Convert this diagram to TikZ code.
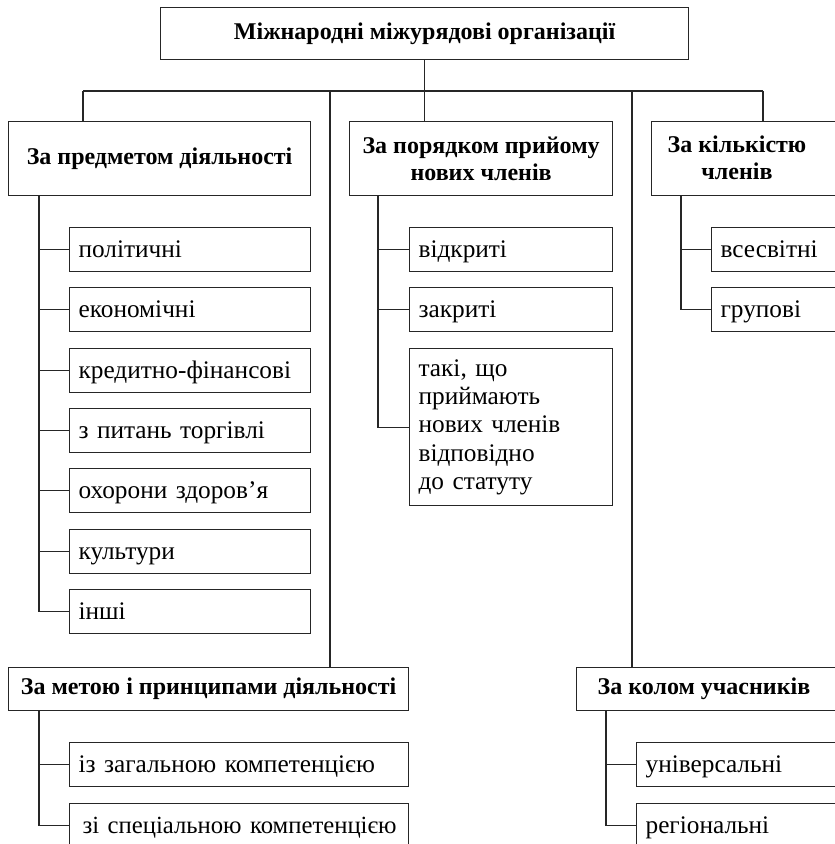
\documentclass[tikz,border=0pt]{standalone}
\usepackage{fontspec}
\setmainfont{Liberation Serif}
\begin{document}
\begin{tikzpicture}[x=1pt,y=-1pt, line width=1.2pt,
  conn/.style={draw=black!85, line width=1.2pt},
  boxbase/.style={draw=black!85, line width=1.2pt, rectangle, anchor=north west, inner ysep=0pt},
  headbox/.style={boxbase, font=\bfseries\fontsize{24}{27.5}\selectfont, align=center, inner xsep=0pt},
  itembox/.style={boxbase, font=\fontsize{25.3}{28.3}\selectfont, align=left, inner xsep=9pt},
  oneline/.style={itembox, minimum height=44pt, text height=20pt, text depth=4.6pt},
  headtext/.style={font=\bfseries\fontsize{24}{27.5}\selectfont, align=center, inner sep=0pt}
]
\useasboundingbox (0,0) rectangle (835,844);
\clip (0,0) rectangle (835,844);
% headings
\node[headbox, minimum width=528pt, minimum height=52pt] (top) at (160,7) {Міжнародні міжурядові організації};
\node[headbox, minimum width=302pt, minimum height=74pt] (b1) at (8,121) {За предметом діяльності};
\node[headbox, minimum width=263pt, minimum height=74pt] (b2) at (349,121) {За порядком прийому\\нових членів};
\node[headbox, minimum width=220pt, minimum height=74pt] (b3) at (651,121) {};
\node[headtext] (b3t) at (737,158) {За кількістю\\членів};
\node[headbox, minimum width=400pt, minimum height=43pt] (met) at (8,667) {За метою і принципами діяльності};
\node[headbox, minimum width=290pt, minimum height=43pt] (kol) at (576,667) {};
\node[headtext] (kolt) at (704,688.5) {За колом учасників};
% items under b1
\node[oneline, text width=223pt] (p1) at (69,227) {політичні};
\node[oneline, text width=223pt] (p2) at (69,287) {економічні};
\node[oneline, text width=223pt] (p3) at (69,348) {кредитно-фінансові};
\node[oneline, text width=223pt] (p4) at (69,408) {з питань торгівлі};
\node[oneline, text width=223pt] (p5) at (69,468) {охорони здоров’я};
\node[oneline, text width=223pt] (p6) at (69,529) {культури};
\node[oneline, text width=223pt] (p7) at (69,589) {інші};
% items under b2
\node[oneline, text width=185pt] (q1) at (409,227) {відкриті};
\node[oneline, text width=185pt] (q2) at (409,287) {закриті};
\node[itembox, text width=185pt, minimum height=157pt] (q3) at (409,348) {такі, що\\приймають\\нових членів\\відповідно\\до статуту};
% items under b3
\node[oneline, text width=182pt] (r1) at (711,227) {всесвітні};
\node[oneline, text width=182pt] (r2) at (711,287) {групові};
% items under met
\node[oneline, text width=321pt] (m1) at (69,742) {із загальною компетенцією};
\node[oneline, text width=321pt] (m2) at (69,803) {\hspace{4pt}\mbox{\fontsize{24.7}{28}\selectfont зі спеціальною компетенцією}};
% items under kol
\node[oneline, text width=232pt] (k1) at (636,742) {універсальні};
\node[oneline, text width=232pt] (k2) at (636,803) {регіональні};
% bus
\coordinate (busL) at (83,91);
\coordinate (busR) at (763,91);
\coordinate (busM) at (330,91);
\coordinate (busK) at (632,91);
\draw[conn] (busL) -- (busR);
\draw[conn] (top.south) -- (top.south |- b2.north);
\draw[conn] (busL) -- (busL |- b1.north);
\draw[conn] (busM) -- (busM |- met.north);
\draw[conn] (busK) -- (busK |- kol.north);
\draw[conn] (busR) -- (busR |- b3.north);
% trunks
\coordinate (t1) at (39,195);
\coordinate (t2) at (378,195);
\coordinate (t3) at (681,195);
\coordinate (t4) at (39,710);
\coordinate (t5) at (606,710);
\draw[conn] (t1) |- (p7.west);
\foreach \n in {p1,p2,p3,p4,p5,p6} \draw[conn] (t1 |- \n.west) -- (\n.west);
\draw[conn] (t2) |- (q3.west);
\foreach \n in {q1,q2} \draw[conn] (t2 |- \n.west) -- (\n.west);
\draw[conn] (t3) |- (r2.west);
\draw[conn] (t3 |- r1.west) -- (r1.west);
\draw[conn] (t4) |- (m2.west);
\draw[conn] (t4 |- m1.west) -- (m1.west);
\draw[conn] (t5) |- (k2.west);
\draw[conn] (t5 |- k1.west) -- (k1.west);
\end{tikzpicture}
\end{document}
